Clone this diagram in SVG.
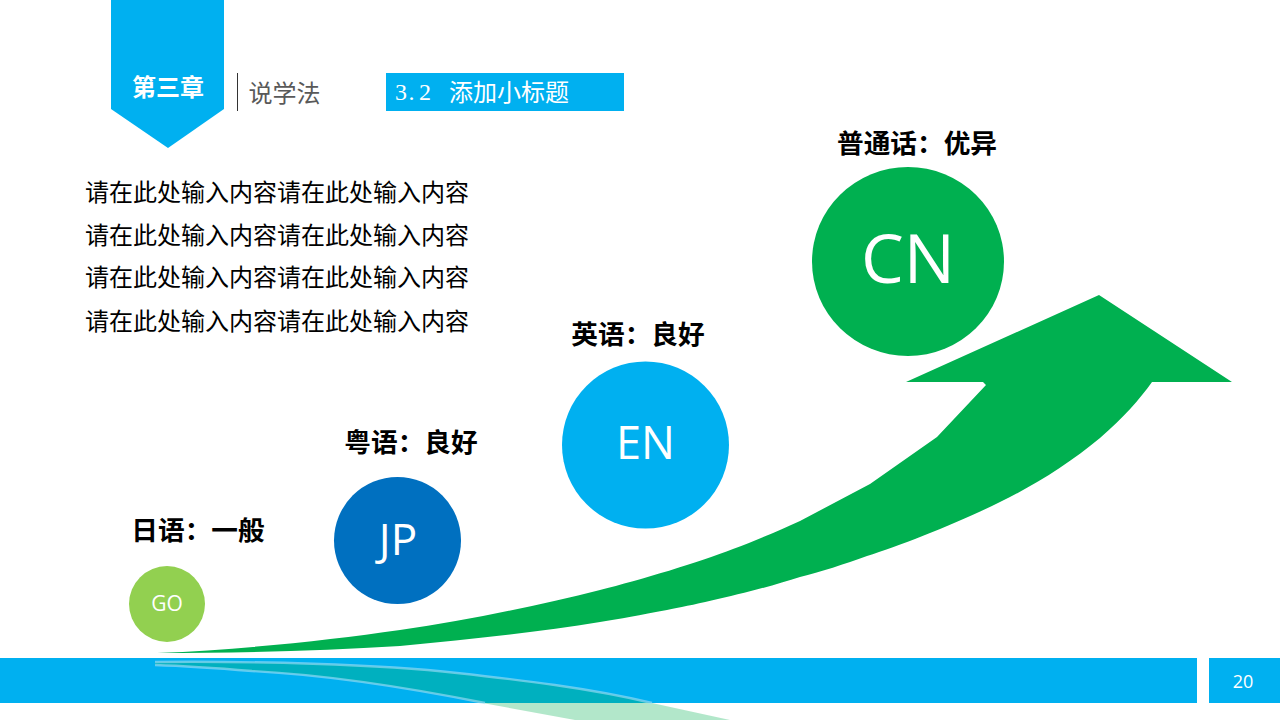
<svg xmlns="http://www.w3.org/2000/svg" width="1280" height="720" viewBox="0 0 1280 720">
<style>
.b{fill:#00b0f0}.g{fill:#00b050}
text{font-family:"Noto Sans CJK SC","Noto Sans",sans-serif}
.lab{font-size:26.67px;font-weight:700;fill:#000;text-anchor:middle}
.body{font-size:24px;fill:#000}
.c{fill:#fff;text-anchor:middle;font-family:"Open Sans","Noto Sans",sans-serif}
.glow{fill:none;stroke:#a6e0f7;stroke-opacity:.6;stroke-width:2.4}
</style>
<rect width="1280" height="720" fill="#fff"/>
<g id="footer">
<rect class="b" x="0" y="658" width="1197" height="45"/>
<rect class="b" x="1209" y="658" width="71" height="45"/>
<text x="1243" y="688" text-anchor="middle" font-size="18" fill="#fff" style="font-family:'Open Sans',sans-serif">20</text>
</g>
<g id="reflection">
<path d="M155 662C250 661 380 664 457 673C520 680 590 688 652 703L730 720H575L477 702C420 690 330 675 252 671C215 668 185 666 155 665Z" fill="#00b050" fill-opacity=".3"/>
<path class="glow" d="M155 662C250 661 380 664 457 673C520 680 590 688 652 703"/>
<path class="glow" d="M155 665C185 666 215 668 252 671C330 675 420 690 485 703"/>
</g>
<g id="chapter">
<path class="b" d="M111 0H224V109L168 148L111 109Z"/>
<text x="168" y="96" text-anchor="middle" font-size="24" font-weight="700" fill="#fff">第三章</text>
<rect x="237" y="73" width="1" height="38" fill="#333"/>
<text x="248.500" y="102" font-size="24" fill="#595959">说学法</text>
</g>
<g id="subtitle">
<rect class="b" x="386" y="73" width="238" height="38"/>
<text x="395 408.500 419" y="100" font-size="24" fill="#fff" style="font-family:'Liberation Serif',serif">3.2</text>
<text x="449" y="101" font-size="24" fill="#fff">添加小标题</text>
</g>
<g id="body-text">
<text class="body" x="85" y="201">请在此处输入内容请在此处输入内容</text>
<text class="body" x="85" y="244">请在此处输入内容请在此处输入内容</text>
<text class="body" x="85" y="286">请在此处输入内容请在此处输入内容</text>
<text class="body" x="85" y="330">请在此处输入内容请在此处输入内容</text>
</g>
<g id="connectors">
<path class="g" d="M157 653C250 649 330 640 400 630C470 620 540 605 600 590C640 580 700 562 733 549C755 541 780 530 800 521L870 484L937 437L986 385L983 382H906L1099 295L1232 382H1152C1140 399 1123 418 1100 438C1070 463 1035 485 1000 502C960 522 900 546 867 556C845 564 820 572 800 577C760 590 700 604 667 610C640 615 620 619 600 622C540 632 470 639 400 646C320 651 240 653 157 653Z"/>
</g>
<g id="node-go">
<circle cx="167" cy="604" r="38" fill="#92d050"/>
<text class="c" x="167" y="611" font-size="21">GO</text>
<text class="lab" x="198" y="540">日语：一般</text>
</g>
<g id="node-jp">
<circle cx="397.500" cy="540.500" r="63.500" fill="#0070c0"/>
<text class="c" x="398" y="555" font-size="44">JP</text>
<text class="lab" x="411" y="452">粤语：良好</text>
</g>
<g id="node-en">
<circle cx="645.500" cy="445" r="83.500" class="b"/>
<text class="c" x="645.500" y="459" font-size="45">EN</text>
<text class="lab" x="638" y="344">英语：良好</text>
</g>
<g id="node-cn">
<ellipse cx="908" cy="261.500" rx="96" ry="94.500" fill="#00b050"/>
<text class="c" x="908" y="283" font-size="68">CN</text>
<text class="lab" x="917" y="153">普通话：优异</text>
</g>
</svg>
